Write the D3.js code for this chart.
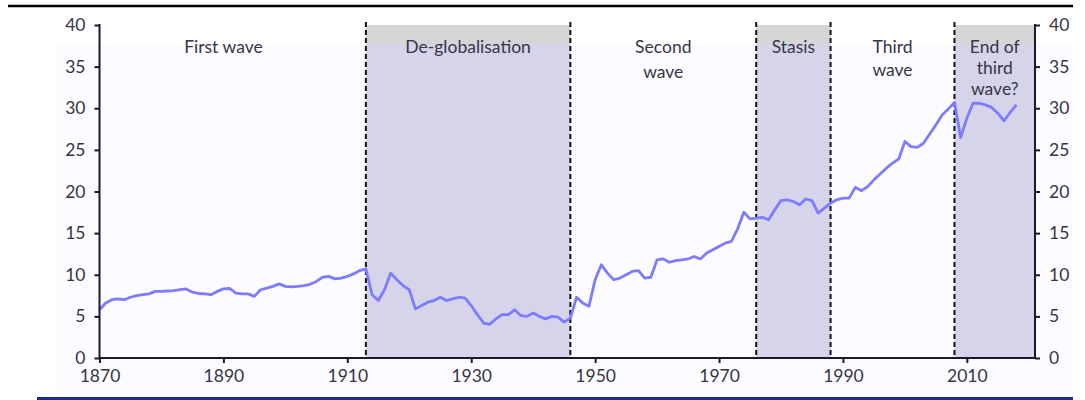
<!DOCTYPE html>
<html>
<head>
<meta charset="utf-8">
<script src="https://cdn.jsdelivr.net/npm/d3@7"></script>
<style>
  html, body { margin: 0; padding: 0; background: #ffffff; }
  #chart { width: 1085px; height: 400px; }
  text { font-family: Lato, "Open Sans", sans-serif; }
</style>
</head>
<body>
<div id="chart"></div>
<script>
// trade share of world GDP, %
var years = d3.range(1870, 2019);
var values = [
  5.8, 6.6, 7.0, 7.1, 7.0, 7.3, 7.5, 7.6, 7.7, 8.0,      // 1870s
  8.0, 8.05, 8.1, 8.2, 8.3, 7.9, 7.75, 7.7, 7.6, 8.0,    // 1880s
  8.3, 8.35, 7.8, 7.7, 7.7, 7.4, 8.2, 8.4, 8.6, 8.9,     // 1890s
  8.6, 8.55, 8.6, 8.7, 8.85, 9.2, 9.7, 9.8, 9.5, 9.6,    // 1900s
  9.8, 10.1, 10.5, 10.7, 7.6, 6.9, 8.2, 10.2, 9.4, 8.7,  // 1910s
  8.2, 5.9, 6.3, 6.7, 6.9, 7.3, 6.9, 7.1, 7.3, 7.2,      // 1920s
  6.3, 5.2, 4.2, 4.05, 4.7, 5.2, 5.2, 5.8, 5.1, 5.0,     // 1930s
  5.4, 5.0, 4.7, 5.0, 4.9, 4.3, 4.8, 7.3, 6.6, 6.2,      // 1940s
  9.4, 11.2, 10.2, 9.4, 9.6, 10.0, 10.4, 10.5, 9.6, 9.7, // 1950s
  11.8, 11.9, 11.5, 11.7, 11.8, 11.9, 12.2, 11.9, 12.6, 13.0, // 1960s
  13.4, 13.8, 14.0, 15.5, 17.5, 16.7, 16.8, 16.9, 16.6, 17.8, // 1970s
  18.9, 19.0, 18.8, 18.4, 19.1, 18.9, 17.4, 18.0, 18.6, 19.0, // 1980s
  19.2, 19.2, 20.5, 20.1, 20.6, 21.4, 22.1, 22.8, 23.4, 23.9, // 1990s
  26.0, 25.4, 25.3, 25.8, 26.9, 28.0, 29.2, 29.9, 30.7, 26.5, // 2000s
  28.8, 30.6, 30.6, 30.4, 30.1, 29.4, 28.5, 29.5, 30.4        // 2010s
];
var yTicks = [0, 5, 10, 15, 20, 25, 30, 35, 40];
var xTicks = [1870, 1890, 1910, 1930, 1950, 1970, 1990, 2010];
var breaks = [1913, 1946, 1976, 1988, 2008];
var shaded = [[1913, 1946], [1976, 1988], [2008, 2021]];
var periodLabels = [
  {x: 1890, lines: ["First wave"]},
  {x: 1929.5, lines: ["De-globalisation"]},
  {x: 1961, lines: ["Second", "wave"], gap: 25},
  {x: 1982, lines: ["Stasis"]},
  {x: 1998, lines: ["Third", "wave"], gap: 23},
  {x: 2014.5, lines: ["End of", "third", "wave?"], gap: 21}
];

var svgwidth = 1085, svgheight = 400;
var margin = {"top": 25, "right": 50, "bottom": 42, "left": 99.5};
var xwidth = 1035 - margin.left;
var yheight = 358 - margin.top;

var svg = d3.select("#chart")
            .append("svg")
            .attr("width", svgwidth)
            .attr("height", svgheight);

// page rules
svg.append("rect")
   .attr("x", 57).attr("y", 45)
   .attr("width", 1016).attr("height", 350)
   .attr("fill", "#fcfbff");
svg.append("line")
   .attr("x1", 8).attr("x2", 1073).attr("y1", 6).attr("y2", 6)
   .attr("stroke", "#000").attr("stroke-width", 2.5);
svg.append("line")
   .attr("x1", 37).attr("x2", 1073).attr("y1", 398.5).attr("y2", 398.5)
   .attr("stroke", "#1d2a8f").attr("stroke-width", 3);

var xscale = d3.scaleLinear()
               .domain([1870, 2021])
               .range([0, xwidth]);
var yscale = d3.scaleLinear()
               .domain([0, 40])
               .range([yheight, 0]);

var board = svg.append("g")
               .attr("transform", "translate(" + margin.left + "," + margin.top + ")");

// shaded periods
board.selectAll("rect.period")
     .data(shaded)
     .enter()
     .append("rect")
     .classed("period", true)
     .attr("x", function (d) { return xscale(d[0]); })
     .attr("y", 20)
     .attr("width", function (d) { return xscale(d[1]) - xscale(d[0]); })
     .attr("height", yheight - 20)
     .attr("fill", "#d5d4ea");
board.selectAll("rect.top")
     .data(shaded)
     .enter()
     .append("rect")
     .classed("top", true)
     .attr("x", function (d) { return xscale(d[0]); })
     .attr("y", yscale(40))
     .attr("width", function (d) { return xscale(d[1]) - xscale(d[0]); })
     .attr("height", 20)
     .attr("fill", "#d5d5d8");

// dashed breaks
board.selectAll("line.brk")
     .data(breaks)
     .enter()
     .append("line")
     .classed("brk", true)
     .attr("x1", function (d) { return xscale(d); })
     .attr("x2", function (d) { return xscale(d); })
     .attr("y1", yscale(40) - 3)
     .attr("y2", yheight)
     .attr("stroke", "#111")
     .attr("stroke-width", 2)
     .attr("stroke-dasharray", "5,3");

// series line
var line = d3.line()
             .x(function (d, i) { return xscale(years[i]); })
             .y(function (d) { return yscale(d); });
board.append("path")
     .datum(values)
     .attr("d", line)
     .attr("fill", "none")
     .attr("stroke", "#7d7cff")
     .attr("stroke-width", 2.8)
     .attr("stroke-linejoin", "round");

// axes
var axisColor = "#1a1a2e", labelColor = "#353547";
var yLeft = d3.axisLeft(yscale).tickValues(yTicks).tickSize(5).tickPadding(9);
var yRight = d3.axisRight(yscale).tickValues(yTicks).tickSize(5).tickPadding(9);
var xAxis = d3.axisBottom(xscale).tickValues(xTicks).tickSize(5).tickPadding(7)
              .tickFormat(d3.format("d"));

function styleAxis(g) {
  g.select(".domain").attr("stroke", axisColor).attr("stroke-width", 2);
  g.selectAll(".tick line").attr("stroke", axisColor).attr("stroke-width", 2);
  g.selectAll(".tick text")
   .attr("fill", labelColor)
   .style("font-family", "Lato, 'Open Sans', sans-serif")
   .style("font-size", "17.5px");
}
board.append("g").call(yLeft).call(styleAxis)
     .select(".domain").attr("d", "M0," + (yscale(40) - 1) + "V" + yheight);
board.append("g").attr("transform", "translate(" + xwidth + ",0)").call(yRight).call(styleAxis)
     .select(".domain").attr("d", "M0," + (yscale(40) - 1) + "V" + yheight);
board.append("g").attr("transform", "translate(0," + yheight + ")").call(xAxis).call(styleAxis)
     .select(".domain").attr("d", "M0,0H" + xwidth);

// period labels
periodLabels.forEach(function (p) {
  var t = board.append("text")
               .attr("x", xscale(p.x))
               .attr("y", 28)
               .attr("text-anchor", "middle")
               .attr("fill", labelColor)
               .style("font-size", "17.5px");
  p.lines.forEach(function (s, i) {
    t.append("tspan")
     .attr("x", xscale(p.x))
     .attr("y", 28 + i * (p.gap || 0))
     .text(s);
  });
});
</script>
</body>
</html>
